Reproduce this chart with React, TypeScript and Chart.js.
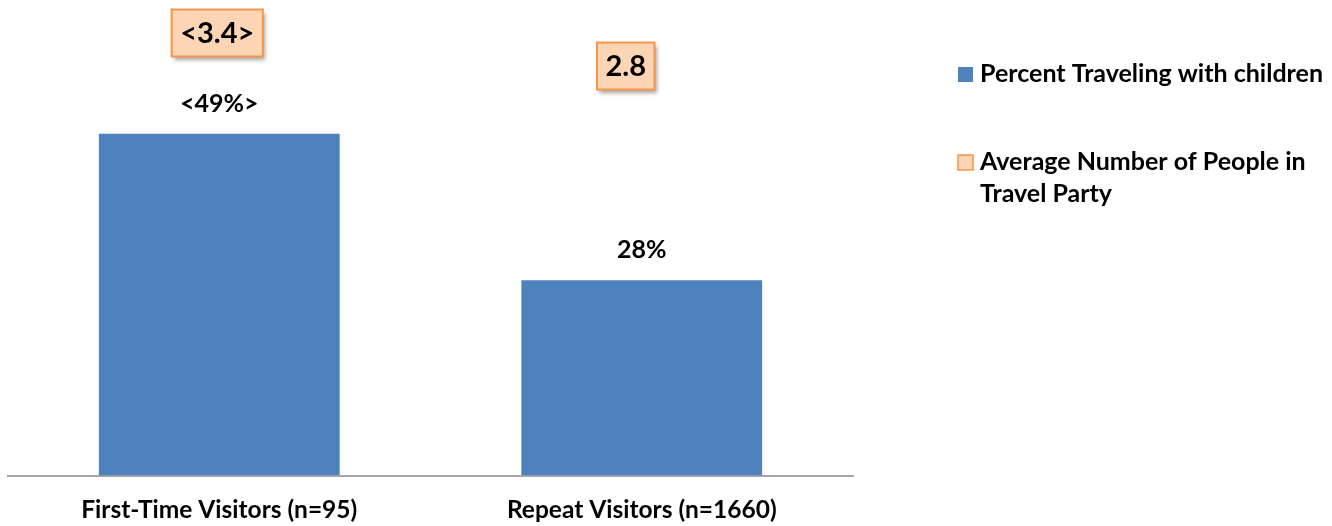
import React, { useEffect, useRef } from "react";
import { Chart, registerables } from "chart.js";

Chart.register(...registerables);

// ---- data ----
const categories = ["First-Time Visitors (n=95)", "Repeat Visitors (n=1660)"];
const percentWithChildren = [49, 28];
const percentLabels = ["<49%>", "28%"];
const avgPartySize = [3.4, 2.8];
const avgPartyLabels = ["<3.4>", "2.8"];
const seriesNames = [
  "Percent Traveling with children",
  "Average Number of People in Travel Party",
];

// ---- style ----
const FONT = "Lato, 'Open Sans', sans-serif";
const BLUE = "#4F81BD";
const PEACH = "#FCD5B5";
const ORANGE = "#F79646";
const boxOffsetsX = [-2, -16];

function wrap(ctx: CanvasRenderingContext2D, text: string, maxW: number): string[] {
  const words = text.split(" ");
  const lines: string[] = [];
  let cur = "";
  for (const w of words) {
    const t = cur ? cur + " " + w : w;
    if (ctx.measureText(t).width > maxW && cur) {
      lines.push(cur);
      cur = w;
    } else cur = t;
  }
  if (cur) lines.push(cur);
  return lines;
}

const labelPlugin = {
  id: "customLabels",
  afterDatasetsDraw(chart: any) {
    const ctx: CanvasRenderingContext2D = chart.ctx;
    ctx.save();
    // bar value labels
    const barMeta = chart.getDatasetMeta(0);
    ctx.font = `bold 25px ${FONT}`;
    ctx.fillStyle = "#000";
    ctx.textAlign = "center";
    ctx.textBaseline = "middle";
    barMeta.data.forEach((el: any, i: number) => {
      ctx.fillText(percentLabels[i], el.x, el.y - 30);
    });
    // boxed labels for second series
    const ptMeta = chart.getDatasetMeta(1);
    ctx.font = `bold 29px ${FONT}`;
    ptMeta.data.forEach((el: any, i: number) => {
      const txt = avgPartyLabels[i];
      const w = ctx.measureText(txt).width + 17;
      const h = 47;
      const cx = el.x + boxOffsetsX[i];
      const cy = el.y;
      ctx.save();
      ctx.shadowColor = "rgba(0,0,0,0.35)";
      ctx.shadowBlur = 4;
      ctx.shadowOffsetX = 2;
      ctx.shadowOffsetY = 3;
      ctx.fillStyle = PEACH;
      ctx.fillRect(cx - w / 2, cy - h / 2, w, h);
      ctx.restore();
      ctx.lineWidth = 2;
      ctx.strokeStyle = ORANGE;
      ctx.strokeRect(cx - w / 2, cy - h / 2, w, h);
      ctx.fillStyle = "#000";
      ctx.fillText(txt, cx, cy + 1);
    });
    ctx.restore();
  },
  afterDraw(chart: any) {
    const ctx: CanvasRenderingContext2D = chart.ctx;
    ctx.save();
    ctx.font = `bold 25px ${FONT}`;
    ctx.textAlign = "left";
    ctx.textBaseline = "middle";
    const sqX = 958;
    const textX = 980;
    const items = [
      { y: 74, fill: BLUE, stroke: BLUE },
      { y: 162, fill: PEACH, stroke: ORANGE },
    ];
    chart.data.datasets.forEach((ds: any, i: number) => {
      const it = items[i];
      ctx.fillStyle = it.fill;
      ctx.fillRect(sqX, it.y - 7, 15, 15);
      if (i === 1) {
        ctx.strokeStyle = it.stroke;
        ctx.lineWidth = 1.5;
        ctx.strokeRect(sqX, it.y - 7, 15, 15);
      }
      ctx.fillStyle = "#000";
      const lines = wrap(ctx, ds.label, 345);
      lines.forEach((ln, k) => ctx.fillText(ln, textX, it.y + k * 32));
    });
    ctx.restore();
  },
};

export default function App() {
  const ref = useRef<HTMLCanvasElement | null>(null);
  useEffect(() => {
    document.body.style.margin = "0";
    const chart = new Chart(ref.current as HTMLCanvasElement, {
      type: "bar",
      data: {
        labels: categories,
        datasets: [
          {
            type: "bar",
            label: seriesNames[0],
            data: percentWithChildren,
            backgroundColor: BLUE,
            categoryPercentage: 1,
            barPercentage: 0.57,
            yAxisID: "y",
          },
          {
            type: "line",
            label: seriesNames[1],
            data: avgPartySize,
            showLine: false,
            pointRadius: 0,
            backgroundColor: PEACH,
            borderColor: ORANGE,
            yAxisID: "y1",
          } as any,
        ],
      },
      options: {
        responsive: false,
        animation: false,
        devicePixelRatio: 1,
        layout: { padding: { top: 22, left: 8, right: 479, bottom: -19 } },
        plugins: { legend: { display: false }, tooltip: { enabled: false } },
        scales: {
          x: {
            offset: true,
            grid: { display: false, drawTicks: false, tickLength: 0 },
            border: { display: true, color: "#A6A6A6", width: 2 },
            ticks: {
              color: "#000",
              font: { family: FONT, size: 24.5, weight: "bold" },
              padding: 20,
              maxRotation: 0,
              autoSkip: false,
            },
          },
          y: { display: false, min: 0, max: 65 },
          y1: { display: false, min: -4.64, max: 3.6 },
        },
      },
      plugins: [labelPlugin],
    });
    return () => chart.destroy();
  }, []);
  return (
    <div style={{ position: "absolute", left: 0, top: 0, width: 1332, height: 526 }}>
      <canvas ref={ref} width={1332} height={526} />
    </div>
  );
}
